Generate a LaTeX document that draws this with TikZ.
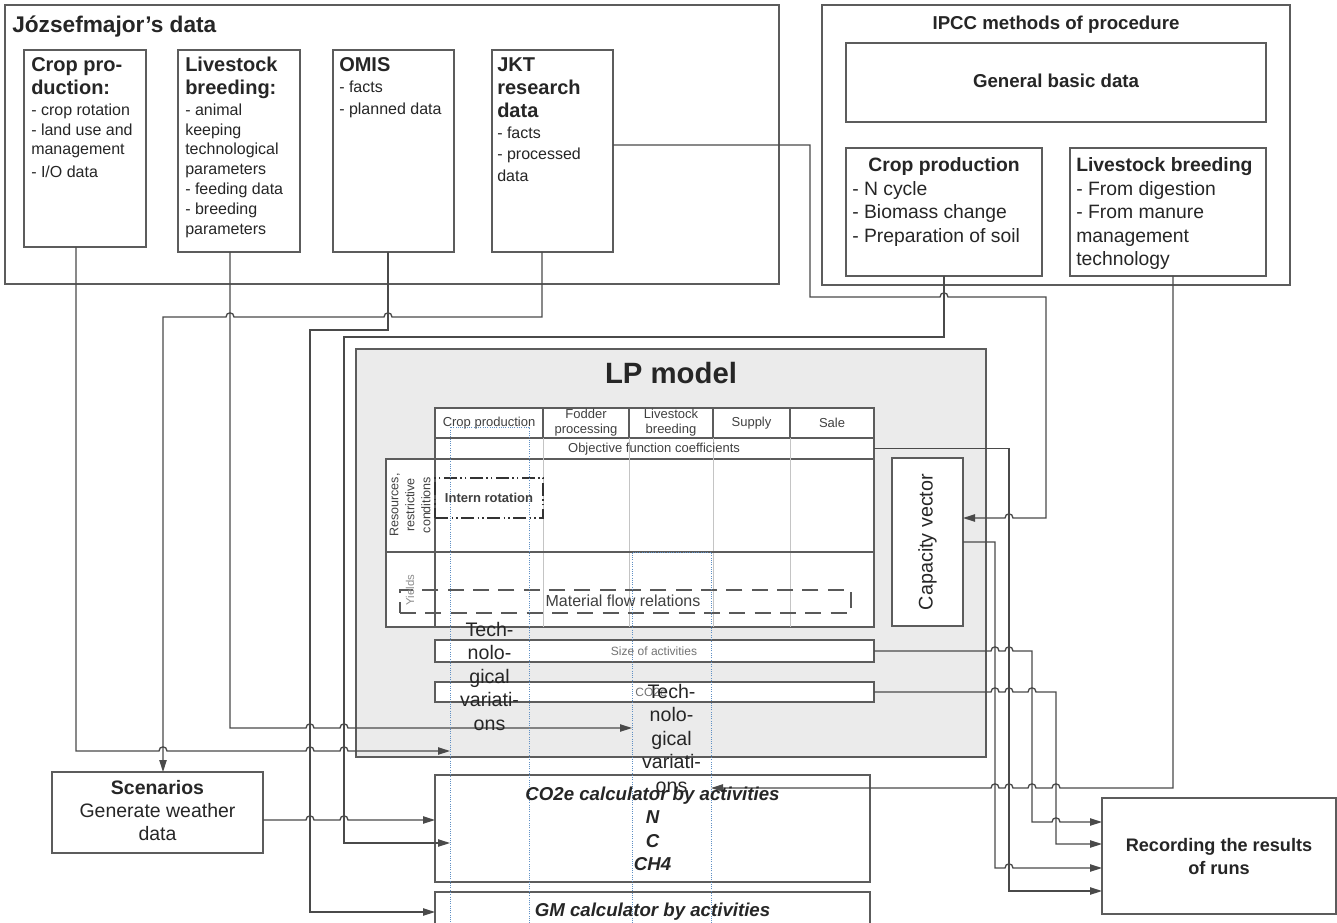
\documentclass[tikz,border=0pt]{standalone}
\usepackage{fontspec}
\setmainfont{Liberation Sans}
\usetikzlibrary{arrows.meta}
\definecolor{lc}{HTML}{4A4A4A}
\definecolor{bc}{HTML}{5C5C5C}
\definecolor{lpfill}{HTML}{EBEBEB}
\definecolor{dotblue}{HTML}{5E8FC4}
\definecolor{tg}{HTML}{404040}
\definecolor{colg}{HTML}{C4C4C4}
\newcommand\fsz[2]{\fontsize{#1}{#2}\selectfont}
\newcommand\hopR[2]{-- ({#1-4},#2) .. controls ({#1-4},{#2-5.5}) and ({#1+4},{#2-5.5}) .. ({#1+4},#2)}
\newcommand\hopL[2]{-- ({#1+4},#2) .. controls ({#1+4},{#2-5.5}) and ({#1-4},{#2-5.5}) .. ({#1-4},#2)}
\newcommand\bx[6][]{\node[boxst,#1,anchor=north west,minimum width={(#5-#3)*0.75pt},minimum height={(#6-#4)*0.75pt}] (#2) at (#3,#4) {};}
\newcommand\tlin[5]{\node[anchor=base west,inner sep=0pt,font=#4] (#1) at (#2,#3) {#5};}
\newcommand\tcen[5]{\node[anchor=base,inner sep=0pt,font=#4] (#1) at (#2,#3) {#5};}
\begin{document}
\begin{tikzpicture}[x=0.75pt,y=-0.75pt,
  boxst/.style={draw=bc,line width=1pt,fill=white,inner sep=0pt,outer sep=0pt},
  conn/.style={draw=lc,line width=1pt},
  arr/.style={-{Triangle[length=9pt,width=5.5pt]}},
  every node/.style={text=black!85}]
\useasboundingbox (0,0) rectangle (1337,923);
\fill[white] (0,0) rectangle (1337,923);

% ---------- Jozsefmajor ----------
\bx{J}{5}{5}{779}{284}
\bx{cropJ}{24}{50}{146}{247}
\bx{liveJ}{178}{50}{300}{252}
\bx{omis}{333}{50}{454}{252}
\bx{jkt}{492}{50}{613}{252}
% ---------- IPCC ----------
\bx{ipcc}{822}{5}{1290}{285}
\bx{gbd}{846}{43}{1266}{122}
\bx{cropI}{846}{148}{1042}{276}
\bx{liveI}{1070}{148}{1266}{276}
% ---------- LP model ----------
\bx[fill=lpfill]{lp}{356}{349}{986}{757}
\bx[line width=0.8pt]{hdr}{435}{408}{874}{438}
\bx[line width=0.8pt]{obj}{435}{438}{874}{459}
\bx[line width=0.8pt]{mat}{386}{459}{874}{627}
\foreach \x in {543,629,713,790}{
  \draw[bc,line width=0.8pt] (\x,408) -- (\x,438);
  \draw[colg,line width=0.6pt] (\x,438) -- (\x,627);
}
\draw[bc,line width=0.8pt] (386,552) -- (874,552);
\draw[bc,line width=0.8pt] (435,459) -- (435,627);
\bx[draw=black!80,fill=none,dash pattern=on 10pt off 2.5pt on 1pt off 2.5pt on 1pt off 2.5pt]{irot}{435}{478}{543}{518}
\bx[draw=black!65,fill=none,dash pattern=on 12pt off 7pt]{mflow}{400}{590}{851}{613}
\bx[line width=0.8pt]{size}{435}{640}{874}{662}
\bx[line width=0.8pt]{cotwo}{435}{682}{874}{702}
\bx{cap}{892}{458}{963}{626}
% ---------- lower boxes ----------
\bx{calc}{435}{775}{870}{882}
\bx{gm}{435}{892}{870}{960}
\bx{scen}{52}{772}{263}{853}
\bx{rec}{1102}{798}{1336}{914}

% ---------- connectors ----------
\draw[conn,arr] (cropJ.south -| 76,0) -- (76,751) \hopR{163}{751} \hopR{310}{751} \hopR{344}{751} -- (450,751);
\draw[conn,arr] (liveJ.south -| 230,0) -- (230,728) \hopR{310}{728} \hopR{344}{728} -- (632,728);
\draw[conn,arr] (jkt.south -| 542,0) -- (542,317) \hopL{388}{317} \hopL{230}{317} -- (163,317) -- (scen.north -| 163,0);
\draw[conn,arr] (omis.south -| 388,0) -- (388,330) -- (310,330) -- (310,912) -- (gm.west |- 0,912);
\draw[conn,arr] (scen.east |- 0,820) \hopR{310}{820} \hopR{344}{820} -- (calc.west |- 0,820);
\draw[conn,arr] (cropI.south) -- (944,337) -- (344,337) -- (344,843) -- (450,843);
\draw[conn,arr] (jkt.east |- 0,145) -- (810,145) -- (810,297) \hopR{944}{297} -- (1046,297) -- (1046,518) \hopL{1009}{518} -- (cap.east |- 0,518);
\draw[conn,arr] (obj.east) -- (1009,448.5) -- (1009,891) -- (rec.west |- 0,891);
\draw[conn,arr] (cap.east |- 0,542) -- (995,542) -- (995,868) \hopR{1009}{868} -- (rec.west |- 0,868);
\draw[conn,arr] (size.east) \hopR{995}{651} \hopR{1009}{651} -- (1032,651) -- (1032,822) \hopR{1056}{822} -- (rec.west |- 0,822);
\draw[conn,arr] (cotwo.east) \hopR{995}{692} \hopR{1009}{692} \hopR{1032}{692} -- (1056,692) -- (1056,844) -- (rec.west |- 0,844);
\draw[conn,arr] (liveI.south -| 1173,0) -- (1173,788) \hopL{1056}{788} \hopL{1032}{788} \hopL{1009}{788} \hopL{995}{788} -- (711,788);

% ---------- blue dotted text frames ----------
\bx[draw=dotblue,fill=none,line width=0.7pt,densely dotted]{tvb1}{450}{427}{529}{960}
\bx[draw=dotblue,fill=none,line width=0.7pt,densely dotted]{tvb2}{632}{552}{711}{960}

% ---------- texts: Jozsefmajor ----------
\tlin{tJ}{12}{33}{\bfseries\fsz{17}{20}}{Józsefmajor’s data}
\tlin{a1}{31}{72}{\bfseries\fsz{15}{18}}{Crop pro-}
\tlin{a2}{31}{95}{\bfseries\fsz{15}{18}}{duction:}
\tlin{a3}{31}{116}{\fsz{12}{15}}{- crop rotation}
\tlin{a4}{31}{136}{\fsz{12}{15}}{- land use and}
\tlin{a5}{31}{155}{\fsz{12}{15}}{management}
\tlin{a6}{31}{178}{\fsz{12}{15}}{- I/O data}
\tlin{b1}{185}{72}{\bfseries\fsz{15}{18}}{Livestock}
\tlin{b2}{185}{95}{\bfseries\fsz{15}{18}}{breeding:}
\tlin{b3}{185}{116}{\fsz{12}{15}}{- animal}
\tlin{b4}{185}{136}{\fsz{12}{15}}{keeping}
\tlin{b5}{185}{155}{\fsz{12}{15}}{technological}
\tlin{b6}{185}{175}{\fsz{12}{15}}{parameters}
\tlin{b7}{185}{195}{\fsz{12}{15}}{- feeding data}
\tlin{b8}{185}{215}{\fsz{12}{15}}{- breeding}
\tlin{b9}{185}{235}{\fsz{12}{15}}{parameters}
\tlin{o1}{339}{72}{\bfseries\fsz{15}{18}}{OMIS}
\tlin{o2}{339}{93}{\fsz{12}{15}}{- facts}
\tlin{o3}{339}{115}{\fsz{12}{15}}{- planned data}
\tlin{j1}{497}{72}{\bfseries\fsz{15}{18}}{JKT}
\tlin{j2}{497}{95}{\bfseries\fsz{15}{18}}{research}
\tlin{j3}{497}{118}{\bfseries\fsz{15}{18}}{data}
\tlin{j4}{497}{139}{\fsz{12}{15}}{- facts}
\tlin{j5}{497}{160}{\fsz{12}{15}}{- processed}
\tlin{j6}{497}{182}{\fsz{12}{15}}{data}
% ---------- texts: IPCC ----------
\tcen{tI}{1056}{30}{\bfseries\fsz{14}{17}}{IPCC methods of procedure}
\tcen{tG}{1056}{88}{\bfseries\fsz{14}{17}}{General basic data}
\tcen{c1}{944}{172}{\bfseries\fsz{14.5}{17}}{Crop production}
\tlin{c2}{852}{196}{\fsz{14.5}{17}}{- N cycle}
\tlin{c3}{852}{219}{\fsz{14.5}{17}}{- Biomass change}
\tlin{c4}{852}{243}{\fsz{14.5}{17}}{- Preparation of soil}
\tlin{d1}{1076}{172}{\bfseries\fsz{14.5}{17}}{Livestock breeding}
\tlin{d2}{1076}{196}{\fsz{14.5}{17}}{- From digestion}
\tlin{d3}{1076}{219}{\fsz{14.5}{17}}{- From manure}
\tlin{d4}{1076}{243}{\fsz{14.5}{17}}{management}
\tlin{d5}{1076}{266}{\fsz{14.5}{17}}{technology}
% ---------- texts: LP model ----------
\tcen{tLP}{671}{383}{\bfseries\fsz{22}{26}}{LP model}
\node[font=\fsz{9.75}{11.25},text=tg,align=center] (h1) at (489,423) {Crop production};
\node[font=\fsz{9.75}{11.25},text=tg,align=center] (h2) at (586,423) {Fodder\\processing};
\node[font=\fsz{9.75}{11.25},text=tg,align=center] (h3) at (671,423) {Livestock\\breeding};
\node[font=\fsz{9.75}{11.25},text=tg,align=center] (h4) at (751.5,423) {Supply};
\node[font=\fsz{9.75}{11.25},text=tg,align=center] (h5) at (832,423) {Sale};
\node[font=\fsz{9.75}{11.25},text=tg] (objt) at (654,449) {Objective function coefficients};
\node[rotate=90,align=center,font=\fsz{9.4}{12},text=tg] (rest) at (410,505) {Resources,\\restrictive\\conditions};
\node[rotate=90,font=\fsz{8.5}{10},text=black!45] (yt) at (410,590) {Yields};
\node[font=\bfseries\fsz{9.75}{11},text=tg] (irt) at (489,498) {Intern rotation};
\node[font=\fsz{12}{14},text=black!75] (mft) at (623,601) {Material flow relations};
\node[font=\fsz{9}{11},text=black!55] (szt) at (654,651) {Size of activities};
\node[font=\fsz{9}{11},text=black!55] (cot) at (651,692) {CO2e};
\node[rotate=90,font=\fsz{14.8}{17}] (capt) at (927.5,542) {Capacity vector};
\node[anchor=north,inner sep=0pt,align=center,font=\fsz{14.7}{17.6}] (tv1) at (489.5,622) {Tech-\\nolo-\\gical\\variati-\\ons};
\node[anchor=north,inner sep=0pt,align=center,font=\fsz{14.7}{17.6}] (tv2) at (671.5,684) {Tech-\\nolo-\\gical\\variati-\\ons};
% ---------- texts: lower boxes ----------
\tcen{k1}{652.5}{800}{\bfseries\itshape\fsz{14}{17}}{CO2e calculator by activities}
\tcen{k2}{652.5}{823}{\bfseries\itshape\fsz{14}{17}}{N}
\tcen{k3}{652.5}{847}{\bfseries\itshape\fsz{14}{17}}{C}
\tcen{k4}{652.5}{870}{\bfseries\itshape\fsz{14}{17}}{CH4}
\tcen{g1}{652.5}{916}{\bfseries\itshape\fsz{14}{17}}{GM calculator by activities}
\tcen{s1}{157.5}{794}{\bfseries\fsz{14.6}{17}}{Scenarios}
\tcen{s2}{157.5}{817}{\fsz{14.6}{17}}{Generate weather}
\tcen{s3}{157.5}{840}{\fsz{14.6}{17}}{data}
\tcen{r1}{1219}{851}{\bfseries\fsz{13.6}{17}}{Recording the results}
\tcen{r2}{1219}{874}{\bfseries\fsz{13.6}{17}}{of runs}
\end{tikzpicture}
\end{document}
